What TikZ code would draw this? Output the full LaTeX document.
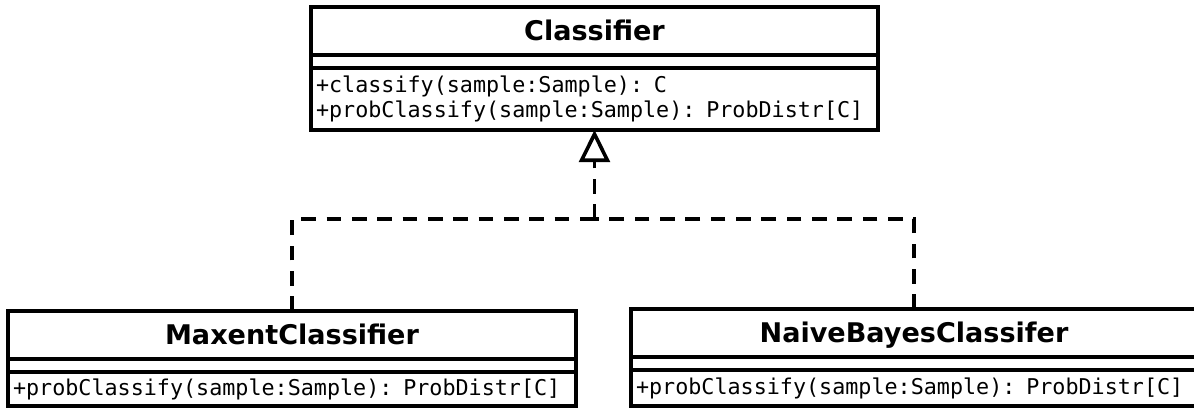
\documentclass[tikz,border=0pt]{standalone}
\usepackage{fontspec}
\setmainfont{DejaVu Sans}
\setmonofont{DejaVu Sans Mono}
\usetikzlibrary{arrows.meta,positioning}

\begin{document}
\begin{tikzpicture}[x=0.75pt,y=-0.75pt,
      part/.style={draw,line width=2.7pt,outer sep=0pt,inner sep=0pt},
      title/.style={part,minimum height=36pt,text height=14pt,text depth=0pt,
                    font=\fontsize{20.3}{24}\selectfont\bfseries},
      attr/.style={part,minimum height=9.75pt},
      ops/.style={part,inner xsep=3.75pt,align=left,
                  font=\fontsize{16.3}{18.75}\selectfont\ttfamily},
      dep/.style={line width=2.7pt,dash pattern=on 11pt off 8pt}]
    \useasboundingbox (0,0) rectangle (1194,407);
    \node[title,minimum width=425.25pt] (classifier) at (594.5,31)
      {Classifier};
    \node[attr,minimum width=425.25pt,below=0pt of classifier]
      (classifier-attr) {};
    \node[ops,text width=417.75pt,minimum height=46.5pt,
          below=0pt of classifier-attr] (classifier-ops)
      {+classify(sample:Sample): C\\
       +probClassify(sample:Sample): ProbDistr[C]};
    \node[title,minimum width=426pt] (maxent) at (292,335)
      {MaxentClassifier};
    \node[attr,minimum width=426pt,below=0pt of maxent] (maxent-attr) {};
    \node[ops,text width=418.5pt,minimum height=25.5pt,
          below=0pt of maxent-attr] (maxent-ops)
      {+probClassify(sample:Sample): ProbDistr[C]};
    \node[title,minimum width=424.5pt] (naive) at (914,333)
      {NaiveBayesClassifer};
    \node[attr,minimum width=424.5pt,below=0pt of naive] (naive-attr) {};
    \node[ops,text width=417pt,minimum height=27pt,
          below=0pt of naive-attr] (naive-ops)
      {+probClassify(sample:Sample): ProbDistr[C]};
    \coordinate (join) at (594.5,219);
    \draw[dep] (maxent.north) |- (join);
    \draw[dep] (naive.north) |- (join);
    \draw[dep,-{Triangle[open,length=24pt,width=23pt,line width=2.7pt]}]
      (join) -- (classifier-ops.south);
  \end{tikzpicture}
\end{document}
